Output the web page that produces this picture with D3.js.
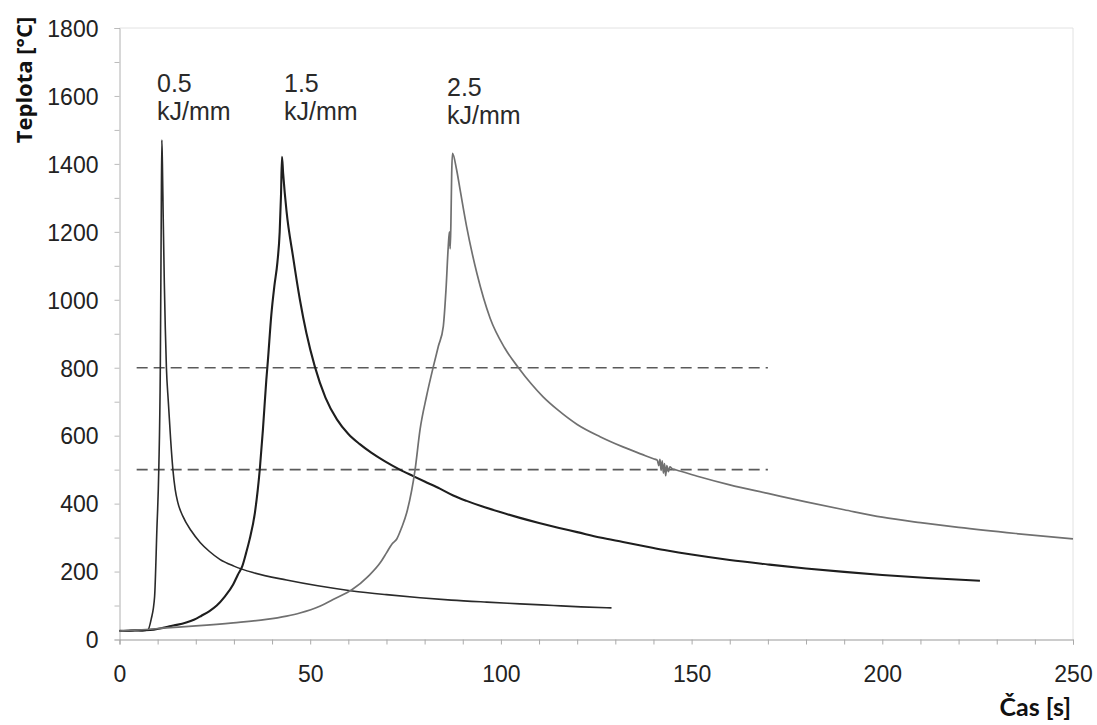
<!DOCTYPE html>
<html><head><meta charset="utf-8">
<script src="https://cdn.jsdelivr.net/npm/d3@7"></script>
<style>body{margin:0;background:#fff}svg{display:block}</style>
</head><body>
<svg id="c" width="1097" height="725"></svg>
<script>
// ---- data (time [s], temperature [°C]) ----
const seriesLabels = ["0.5", "1.5", "2.5"];
const unitLabel = "kJ/mm";
const xTickValues = [0, 50, 100, 150, 200, 250];
const yTickValues = [0, 200, 400, 600, 800, 1000, 1200, 1400, 1600, 1800];
const refLevels = [800, 500];
const refSpan = [4.5, 170];

const s05 = [[0,26],[2,25],[4,27],[6,26],[7.4,28],[8.3,59],[9.2,126],[9.8,323],[10.3,500],[10.7,800],[10.95,1250],[11.1,1470],[11.25,1400],[11.45,1250],[11.75,1050],[12.0,920],[12.3,800],[12.8,700],[13.4,590],[14.0,500],[14.6,442],[15.3,403],[16.6,363],[18.8,320],[21.2,285],[23.6,259],[26.3,236],[30,216],[35,197],[43.8,175],[52,158],[61,143],[70,132],[78.8,123],[87,116],[96.3,110],[105,105],[113.8,100],[121,96],[129,93]];

const s15 = [[0,25],[3,26],[6,27],[9,29],[11,33],[13.1,39],[15,43],[17.5,50],[19.5,58],[21.5,70],[23.5,83],[25.5,100],[27.5,125],[29.8,162],[31,190],[32.2,216],[33.2,255],[34.1,294],[35.5,373],[36.8,503],[37.6,617],[38.5,765],[38.9,820],[39.8,955],[40.6,1040],[41.4,1110],[42.0,1200],[42.35,1310],[42.6,1421],[42.9,1373],[43.8,1260],[45.5,1127],[47.3,1000],[49,902],[51.2,804],[54,712],[57,648],[60,605],[63,575],[66,550],[69.5,525],[73.5,500],[77,481],[80,465],[84,444],[87.5,424],[91,408],[95,392],[99.8,375],[105,358],[110,343],[115,329],[120,316],[126,300],[132,287],[138,274],[143.6,262],[150,250],[160,234],[170,221],[180,209],[190,199],[200,190],[212,181],[225.6,173]];

const s25 = [[0,25],[5,28],[12.3,34],[20,40],[29.8,49],[38.5,59],[43.8,69],[47.3,78],[52.5,98],[56,118],[61,147],[65.2,186],[68.3,225],[70,255],[71.5,282],[72.7,296],[74,330],[75.3,373],[77.5,500],[78.8,618],[80.5,716],[82.3,804],[83.6,863],[84.9,922],[85.6,1029],[86.2,1157],[86.5,1200],[86.7,1150],[86.9,1230],[87.1,1373],[87.3,1431],[88.4,1382],[89.3,1324],[91,1216],[93.7,1078],[97.2,945],[101,858],[104.6,800],[108,752],[111,715],[115,675],[120,633],[126,597],[132,567],[137,545],[140,532],[141,528],[141.4,512],[141.7,530],[142,498],[142.3,526],[142.6,490],[142.9,518],[143.2,482],[143.5,512],[143.9,494],[144.3,508],[145,502],[146,499],[152,479],[160,455],[170,430],[180,405],[190,382],[200,360],[210,344],[220,330],[235,312],[250,296]];

// ---- layout ----
const svg = d3.select("#c");
const x = d3.scaleLinear().domain([0, 250]).range([119.5, 1073]);
const y = d3.scaleLinear().domain([0, 1800]).range([639.5, 28]);

// frame (faint top / right)
svg.append("path")
  .attr("d", `M${x(0)},${y(1800)}H${x(250)}V${y(0)}`)
  .attr("fill", "none").attr("stroke", "#e2e2e2").attr("stroke-width", 1);

// axes
const yAxis = d3.axisLeft(y).tickValues(d3.range(0, 1801, 100)).tickSize(5)
  .tickFormat(d => yTickValues.includes(d) ? d : "");
const gy = svg.append("g").attr("transform", `translate(${x(0)},0)`).call(yAxis);
gy.select(".domain").attr("stroke", "#b0b0b0");
gy.selectAll(".tick line").attr("stroke", "#bbb");
gy.selectAll(".tick text").attr("x", -21).attr("dy", "0.36em")
  .style("font-family", "'Liberation Sans', Arial, sans-serif").style("font-size", "23px").attr("fill", "#222");

const xAxis = d3.axisBottom(x).tickValues(d3.range(0, 251, 10)).tickSize(5)
  .tickFormat(d => xTickValues.includes(d) ? d : "");
const gx = svg.append("g").attr("transform", `translate(0,${y(0)})`).call(xAxis);
gx.select(".domain").attr("stroke", "#999");
gx.selectAll(".tick line").attr("stroke", "#aaa");
gx.selectAll(".tick text").attr("y", 26).attr("dy", "0.71em")
  .style("font-family", "'Liberation Sans', Arial, sans-serif").style("font-size", "23px").attr("fill", "#222");

// reference dashed lines
svg.selectAll("line.ref").data(refLevels).enter().append("line")
  .attr("class", "ref")
  .attr("x1", x(refSpan[0])).attr("x2", x(refSpan[1]))
  .attr("y1", d => y(d)).attr("y2", d => y(d))
  .attr("stroke", "#5a5a5a").attr("stroke-width", 1.6).attr("stroke-dasharray", "11,6");

// curves
const line = d3.line().x(d => x(d[0])).y(d => y(d[1])).curve(d3.curveMonotoneX);
const curves = [
  {data: s05, color: "#2a2a2a", w: 1.6},
  {data: s15, color: "#1e1e1e", w: 2.1},
  {data: s25, color: "#707070", w: 1.7}
];
svg.selectAll("path.curve").data(curves).enter().append("path")
  .attr("class", "curve")
  .attr("d", d => line(d.data))
  .attr("fill", "none").attr("stroke", d => d.color).attr("stroke-width", d => d.w)
  .attr("stroke-linejoin", "round");

// annotations
const annX = [157, 284, 447];
const annY = [92, 92, 96];
seriesLabels.forEach((lab, i) => {
  const t = svg.append("text")
    .attr("x", annX[i]).attr("y", annY[i])
    .style("font-family", "'Liberation Sans', Arial, sans-serif").style("font-size", "25px")
    .attr("fill", "#2a2a2a");
  t.append("tspan").attr("x", annX[i]).text(lab);
  t.append("tspan").attr("x", annX[i]).attr("dy", 28).text(unitLabel);
});

// axis titles
svg.append("text")
  .attr("transform", "translate(32,80) rotate(-90)")
  .attr("text-anchor", "middle")
  .style("font-family", "'Open Sans', sans-serif").style("font-weight", "bold").style("font-size", "22px")
  .attr("fill", "#111").text("Teplota [°C]");
svg.append("text")
  .attr("x", 1071).attr("y", 716).attr("text-anchor", "end")
  .style("font-family", "Lato, sans-serif").style("font-weight", "bold").style("font-size", "25px")
  .attr("fill", "#111").text("Čas [s]");
</script>
</body></html>
